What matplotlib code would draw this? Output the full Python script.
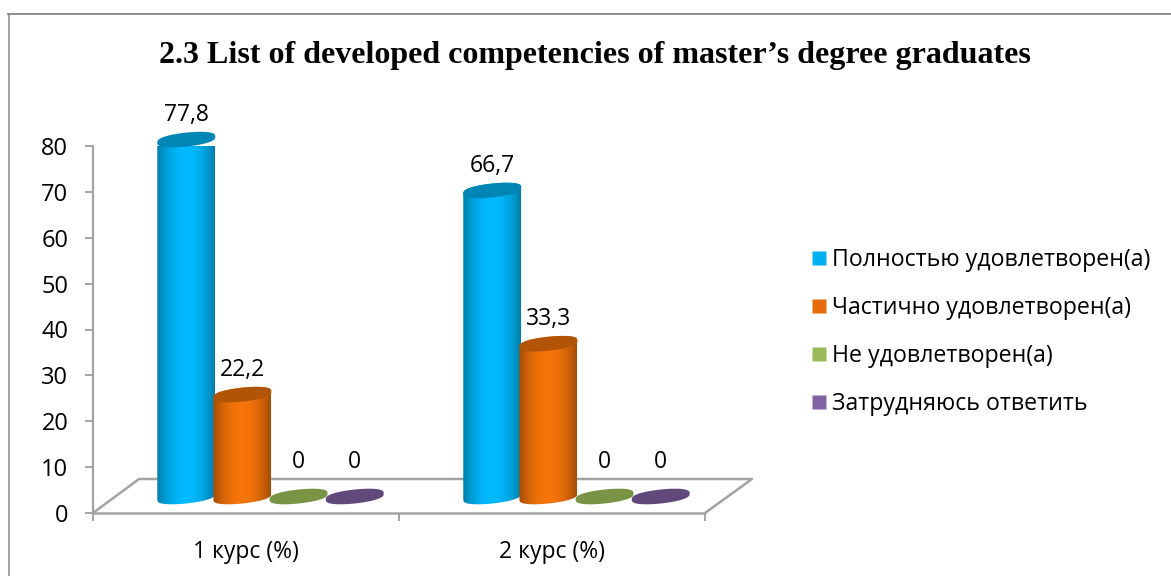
import numpy as np
import matplotlib
matplotlib.use("Agg")
import matplotlib.pyplot as plt
from matplotlib.patches import Polygon
from matplotlib.lines import Line2D

categories = ["1 курс (%)", "2 курс (%)"]
series_names = ["Полностью удовлетворен(а)", "Частично удовлетворен(а)", "Не удовлетворен(а)", "Затрудняюсь ответить"]
series_values = [[77.8, 66.7], [22.2, 33.3], [0, 0], [0, 0]]
value_labels = [["77,8", "66,7"], ["22,2", "33,3"], ["0", "0"], ["0", "0"]]
yticks = [0, 10, 20, 30, 40, 50, 60, 70, 80]
title = "2.3 List of developed competencies of master’s degree graduates"

legend_colors = ["#00B0F0", "#E46C0A", "#9BBB59", "#8064A2"]
center_colors = ["#00BAFF", "#F7750A", "#7F9A48", "#644C80"]
edge_colors = ["#007DA8", "#A34C05", "#7F9A48", "#644C80"]
lid_colors = ["#0086B4", "#B15405", "#7A9445", "#614A7B"]

W, H = 1171, 576
plt.rcParams["font.family"] = ["Open Sans", "DejaVu Sans"]
fig = plt.figure(figsize=(W / 100, H / 100), dpi=100)
L, R, T, B = 93, 705, 146, 513
ax = fig.add_axes([L / W, 1 - B / H, (R - L) / W, (B - T) / H])
ax.set_xlim(-0.5, 1.5)
ax.set_ylim(0, 80)
ax.patch.set_alpha(0)
for s in ["top", "right", "bottom"]:
    ax.spines[s].set_visible(False)
GRAY = "#A3A3A3"
ax.spines["left"].set_color(GRAY)
ax.spines["left"].set_linewidth(1.6)
ax.set_yticks(yticks)
ax.set_xticks([-0.5, 0.5, 1.5], ["", "", ""])
ax.tick_params(axis="both", color=GRAY, width=1.4, length=5.8)
ax.tick_params(axis="y", labelsize=17, pad=12, labelcolor="black")
for lab, x in zip(categories, [0, 1]):
    ax.annotate(lab, (x, 0), xytext=(0, -39), textcoords="offset pixels", ha="center", va="center", fontsize=16.5, annotation_clip=False)

px = (R - L) / 2      # pixels per x unit
py = (B - T) / 80     # pixels per y unit
DX, DY = 24.5 / px, 16.5 / py
BW = 57 / px

def line(xs, ys, **kw):
    ax.plot(xs, ys, color=GRAY, lw=1.8, clip_on=False, solid_capstyle="round", **kw)

# floor
line([-0.5, 1.5], [0, 0], zorder=1)
line([-0.5, -0.5 + 46 / px, 1.5 + 47 / px, 1.5], [0, 34 / py, 34 / py, 0], zorder=1)

def ell(cx, cy, a=29.0, b=7.0, shear=3.0, t0=0, t1=2 * np.pi, n=80):
    t = np.linspace(t0, t1, n)
    u = a * np.cos(t)
    s = np.sin(t)
    v = b * np.sign(s) * np.abs(s) ** 0.72 + shear * np.cos(t)
    return np.c_[cx + u / px, cy + v / py]

grad = np.linspace(0, 1, 256)
prof = np.clip(np.abs(2 * grad - 1) ** 2.0, 0, 1)
n = len(series_names)
for i in range(n):
    c0 = np.array(matplotlib.colors.to_rgb(center_colors[i]))
    c1 = np.array(matplotlib.colors.to_rgb(edge_colors[i]))
    img = (c0[None, :] * (1 - prof[:, None]) + c1[None, :] * prof[:, None])[None, :, :]
    for j, v in enumerate(series_values[i]):
        cx = j + (i - 1.5) * BW * 0.985 + DX
        cy0 = DY
        cy1 = DY + v
        if v > 0:
            low = ell(cx, cy0, t0=np.pi, t1=2 * np.pi)
            up = ell(cx, cy1, t0=0, t1=np.pi)
            poly = Polygon(np.r_[low, up], closed=True, transform=ax.transData, fc="none", ec="none", zorder=3 + i)
            ax.add_patch(poly)
            poly.set_clip_on(False)
            im = ax.imshow(img, extent=[cx - 29 / px, cx + 29 / px, cy0 - 12 / py, cy1 + 12 / py], aspect="auto", zorder=3 + i, clip_on=True)
            im.set_clip_path(poly)
        p = Polygon(ell(cx, cy1), closed=True, fc=lid_colors[i], ec="none", zorder=3.5 + i, clip_on=False)
        ax.add_patch(p)
        lift = 22 + (3 if v > 0 else 12)
        ax.annotate(value_labels[i][j], (cx, cy1), xytext=(0, lift), textcoords="offset pixels",
                    ha="center", va="center", fontsize=16.5, annotation_clip=False, zorder=10)
ax.set_xlim(-0.5, 1.5)
ax.set_ylim(0, 80)

fig.text(595 / W, 1 - 55 / H, title, family="Liberation Serif", weight="bold", fontsize=23, ha="center", va="center")

# legend
handles = [Line2D([], [], ls="none", marker="s", ms=10.5, mfc=c, mec="none") for c in legend_colors]
fig.legend(handles, series_names, loc="center left", bbox_to_anchor=(805 / W, 1 - 332 / H), frameon=False,
           fontsize=16.7, labelspacing=1.03, handletextpad=-0.02, handlelength=1.2, borderpad=0, borderaxespad=0)

# chart border
fig.add_artist(Line2D([8.5 / W, 8.5 / W], [0, 1 - 14 / H], color="#A0A0A0", lw=1.4))
fig.add_artist(Line2D([8 / W, 1], [1 - 14 / H, 1 - 14 / H], color="#858585", lw=1.3))

fig.savefig("out.png", dpi=100)
